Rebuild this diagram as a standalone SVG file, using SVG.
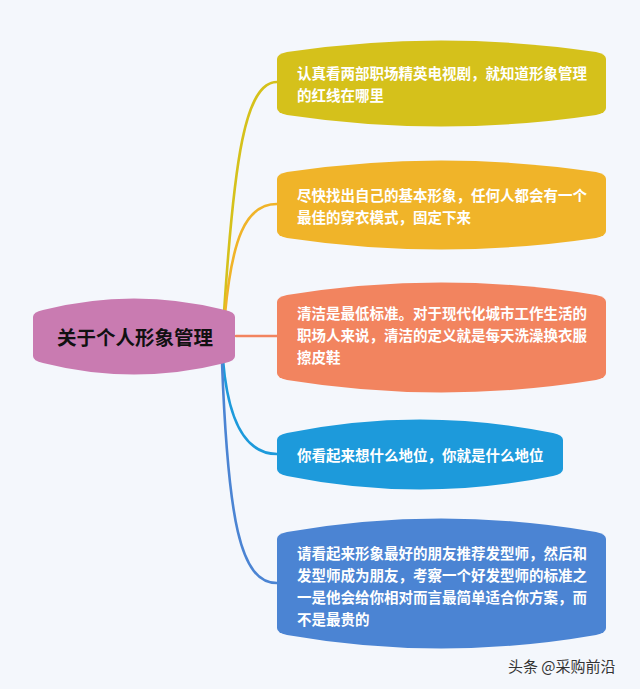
<svg xmlns="http://www.w3.org/2000/svg" width="640" height="689" viewBox="0 0 640 689">
<style>
.t{font-family:"Noto Sans CJK SC","Noto Sans",sans-serif;font-weight:bold;font-size:14.5px;fill:#ffffff}
.c{fill:none;stroke-width:2.6;stroke-linecap:round}
</style>
<rect width="640" height="689" fill="#f4f7fc"/>
<g id="connectors">
<path class="c" stroke="#d5c11b" d="M224,313 C234,160 245,82 277,82"/>
<path class="c" stroke="#f0b429" d="M225,314 C232,240 245,204 277,204"/>
<path class="c" stroke="#f2845f" d="M236,336 L277,336"/>
<path class="c" stroke="#1d9adb" d="M223,360 C228,420 245,454 277,454"/>
<path class="c" stroke="#4b84d3" d="M222,362 C228,520 240,583 277,583"/>
</g>
<g id="center">
<path fill="#c97bb1" d="M33,317 Q33,312 43,310 Q134,287 225,310 Q235,312 235,317 L235,356 Q235,361 225,363 Q134,386 43,363 Q33,361 33,356 Z"/>
<text x="135" y="345" text-anchor="middle" style="font-family:'Noto Sans CJK SC','Noto Sans',sans-serif;font-weight:bold;font-size:19.5px;fill:#111">关于个人形象管理</text>
</g>
<g id="n1">
<path fill="#d5c11b" d="M277,59 Q277,54 287,52 Q441,29 596,52 Q606,54 606,59 L606,108 Q606,113 596,115 Q441,138 287,115 Q277,113 277,108 Z"/>
<text class="t" x="297" y="79">认真看两部职场精英电视剧，就知道形象管理</text>
<text class="t" x="297" y="101">的红线在哪里</text>
</g>
<g id="n2">
<path fill="#f0b429" d="M277,179 Q277,174 287,172 Q441,149 596,172 Q606,174 606,179 L606,231 Q606,236 596,238 Q441,261 287,238 Q277,236 277,231 Z"/>
<text class="t" x="297" y="201">尽快找出自己的基本形象，任何人都会有一个</text>
<text class="t" x="297" y="223">最佳的穿衣模式，固定下来</text>
</g>
<g id="n3">
<path fill="#f2845f" d="M277,302 Q277,297 287,295 Q441,270 596,295 Q606,297 606,302 L606,373 Q606,378 596,380 Q441,405 287,380 Q277,378 277,373 Z"/>
<text class="t" x="297" y="319">清洁是最低标准。对于现代化城市工作生活的</text>
<text class="t" x="297" y="341">职场人来说，清洁的定义就是每天洗澡换衣服</text>
<text class="t" x="297" y="363">擦皮鞋</text>
</g>
<g id="n4">
<path fill="#1d9adb" d="M277,440 Q277,435 287,433 Q420,406 553,433 Q563,435 563,440 L563,469 Q563,474 553,476 Q420,503 287,476 Q277,474 277,469 Z"/>
<text class="t" x="297" y="461">你看起来想什么地位，你就是什么地位</text>
</g>
<g id="n5">
<path fill="#4b84d3" d="M277,539 Q277,534 287,532 Q441,505 596,532 Q606,534 606,539 L606,628 Q606,633 596,635 Q441,662 287,635 Q277,633 277,628 Z"/>
<text class="t" x="297" y="559">请看起来形象最好的朋友推荐发型师，然后和</text>
<text class="t" x="297" y="581">发型师成为朋友，考察一个好发型师的标准之</text>
<text class="t" x="297" y="603">一是他会给你相对而言最简单适合你方案，而</text>
<text class="t" x="297" y="625">不是最贵的</text>
</g>
<text x="508" y="672" style="font-family:'Noto Sans CJK SC','Noto Sans',sans-serif;font-size:15px;fill:#333">头条 @采购前沿</text>
</svg>
